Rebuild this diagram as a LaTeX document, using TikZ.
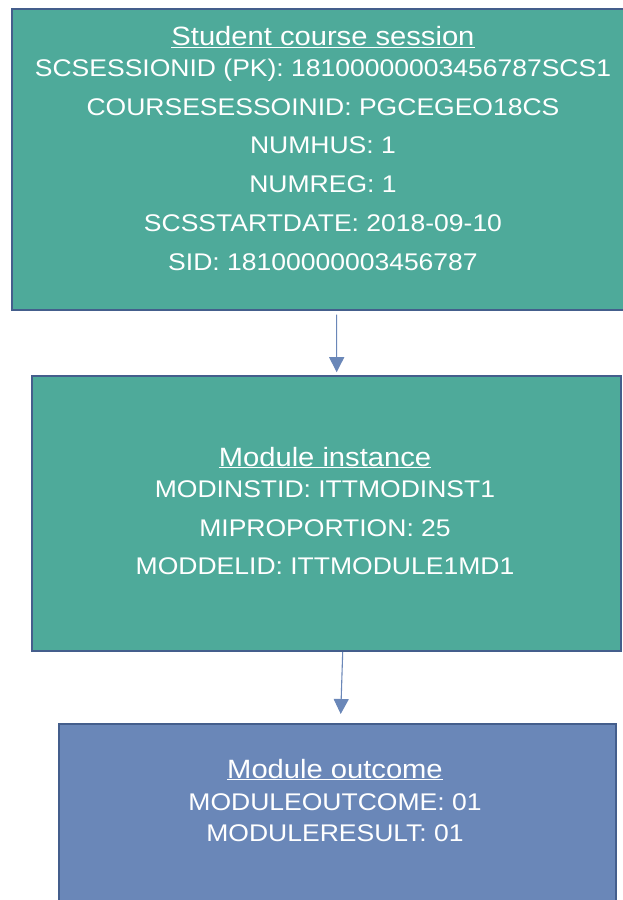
\documentclass[tikz,border=0pt]{standalone}
\usepackage{fontspec}
\setmainfont[FakeStretch=1.1]{Liberation Sans}
\usetikzlibrary{arrows.meta}
\definecolor{tealfill}{RGB}{78,170,154}
\definecolor{boxedge}{RGB}{68,94,140}
\definecolor{bluefill}{RGB}{106,135,184}
\definecolor{arrowcol}{RGB}{106,135,184}
\tikzset{
  entity/.style={draw=boxedge, line width=2pt, rectangle, inner sep=0pt, anchor=north west},
  tealbox/.style={entity, fill=tealfill},
  bluebox/.style={entity, fill=bluefill},
  bodytxt/.style={text=white, anchor=base, inner sep=0pt, font=\fontsize{24.1}{29}\selectfont},
  titletxt/.style={text=white, anchor=base, inner sep=0pt, font=\fontsize{26.5}{32}\selectfont},
  conn/.style={draw=arrowcol, line width=1.1pt, -{Triangle[width=15pt,length=15pt]}}
}
\begin{document}
\begin{tikzpicture}[x=1pt,y=-1pt]
\useasboundingbox (0,0) rectangle (623,900);
\fill[white] (0,0) rectangle (623,900);
\clip (0,0) rectangle (623,900);
% boxes
\node[tealbox, minimum width=624pt, minimum height=300.5pt] (box1) at (10.9,8.4) {};
\node[tealbox, minimum width=589.4pt, minimum height=274.8pt] (box2) at (30.8,375.2) {};
\node[bluebox, minimum width=557pt, minimum height=210pt] (box3) at (57.8,722.5) {};
% box 1 text
\node[titletxt] (t1) at (323,45.3) {\underline{Student course session}};
\node[bodytxt] (t1a) at (323,76.7) {SCSESSIONID (PK): 18100000003456787SCS1};
\node[bodytxt] (t1b) at (323,115.7) {COURSESESSOINID: PGCEGEO18CS};
\node[bodytxt] (t1c) at (323,153.3) {NUMHUS: 1};
\node[bodytxt] (t1d) at (323,192.3) {NUMREG: 1};
\node[bodytxt] (t1e) at (323,231) {SCSSTARTDATE: 2018-09-10};
\node[bodytxt] (t1f) at (323,270) {SID: 18100000003456787};
% box 2 text
\node[titletxt] (t2) at (325,466) {\underline{Module instance}};
\node[bodytxt] (t2a) at (325,497) {MODINSTID: ITTMODINST1};
\node[bodytxt] (t2b) at (325,536) {MIPROPORTION: 25};
\node[bodytxt] (t2c) at (325,574) {MODDELID: ITTMODULE1MD1};
% box 3 text
\node[titletxt] (t3) at (335,778) {\underline{Module outcome}};
\node[bodytxt] (t3a) at (335,810) {MODULEOUTCOME: 01};
\node[bodytxt] (t3b) at (335,841) {MODULERESULT: 01};
% connectors
\draw[conn] ([xshift=12.7pt,yshift=-3.7pt]box1.south) -- ([xshift=10.2pt,yshift=3pt]box2.north);
\draw[conn] ([xshift=16.2pt]box2.south) -- ([xshift=3.4pt,yshift=8.5pt]box3.north);
\end{tikzpicture}
\end{document}
